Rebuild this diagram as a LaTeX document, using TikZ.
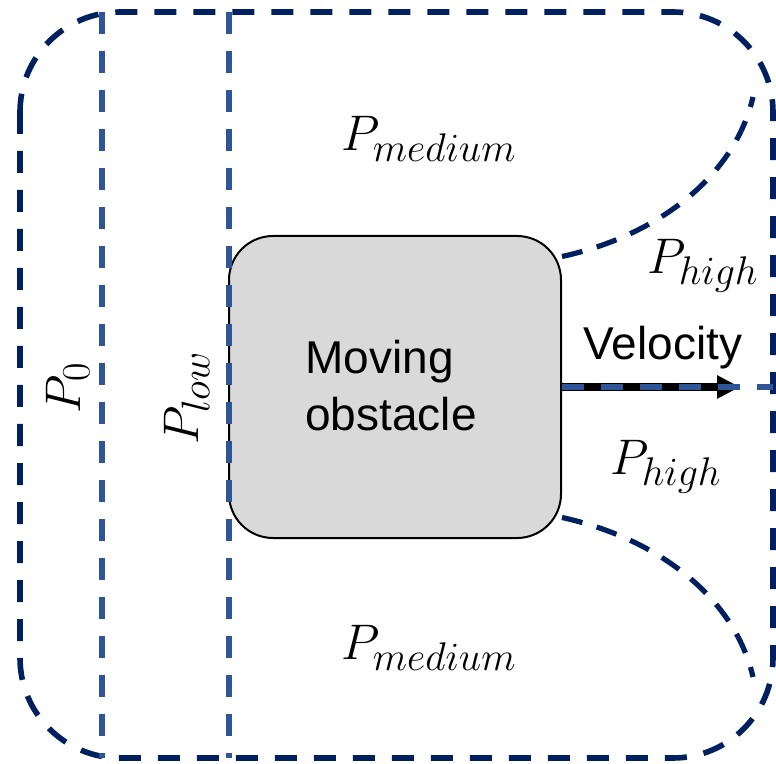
\RequirePackage{fix-cm}
\documentclass[tikz,border=0pt]{standalone}
\usepackage{fontspec}
\newfontfamily\labelsans{Liberation Sans}
\usetikzlibrary{positioning,arrows.meta}
\DeclareMathSizes{25}{25}{20}{16}
\definecolor{bndnavy}{HTML}{002060}
\definecolor{zoneblue}{HTML}{2F5597}
\definecolor{obstgray}{HTML}{D9D9D9}
\tikzset{
  outerln/.style={draw=bndnavy,line width=2.8pt,dash pattern=on 11pt off 8.5pt},
  curveln/.style={draw=bndnavy,line width=2.6pt,dash pattern=on 10.5pt off 7.5pt},
  zoneln/.style={draw=zoneblue,line width=3pt,dash pattern=on 11pt off 8.5pt},
  obstbox/.style={draw=black,fill=obstgray,rounded corners=22pt,line width=1pt,
    minimum width=166pt,minimum height=151pt,inner sep=0pt},
  velarrow/.style={-{Triangle[length=11.5pt,width=11pt]},line width=3.8pt,black},
  plbl/.style={inner sep=0pt,font=\fontsize{25}{30}\selectfont},
  slbl/.style={inner sep=0pt,font=\labelsans\fontsize{23}{28.5}\selectfont},
}
\begin{document}
\begin{tikzpicture}[x=0.5pt,y=-0.5pt]
  \useasboundingbox (0,0) rectangle (776,764);
  % outer domain boundary
  \draw[outerln,rounded corners=50pt] (20,12) rectangle (773,758);
  % moving obstacle
  \node[obstbox] (obst) at (395,387) {};
  \node[slbl,align=left] (obsttxt) at (391,386) {Moving\\obstacle};
  % zone borders (vertical)
  \coordinate (zlt) at (102,12);
  \coordinate (zlb) at (102,758);
  \coordinate (zrt) at (229,12);
  \coordinate (zrb) at (229,758);
  \draw[zoneln] (zlt) -- (zlb);
  \draw[zoneln] (zrt) -- (zrb);
  % high-pressure wake borders
  \coordinate (ctop) at (753,97);
  \coordinate (cbot) at (753,677);
  \draw[curveln] (obst.38) .. controls (660,235) and (735,175) .. (ctop);
  \draw[curveln] (obst.-38) .. controls (660,539) and (735,599) .. (cbot);
  % velocity
  \coordinate (vtip) at (740,387);
  \coordinate (redge) at (773,387);
  \draw[velarrow] (obst.east) -- (vtip);
  \draw[zoneln] (obst.east) -- (redge);
  \node[slbl] (vel) at (663,348) {Velocity};
  % pressure labels
  \node[plbl] (pmedtop) at (429,139) {$P_{medium}$};
  \node[plbl] (pmedbot) at (429,648) {$P_{medium}$};
  \node[plbl] (phightop) at (703,266) {$P_{high}$};
  \node[plbl] (phighbot) at (666,467) {$P_{high}$};
  \node[plbl,rotate=90] (pzero) at (68,388) {$P_0$};
  \node[plbl,rotate=90] (plow) at (187,398) {$P_{low}$};
\end{tikzpicture}
\end{document}
